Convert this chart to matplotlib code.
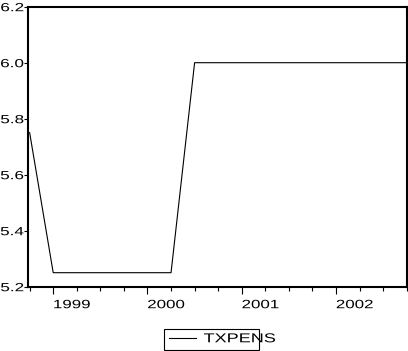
import matplotlib
matplotlib.use("Agg")
import numpy as np
import matplotlib.pyplot as plt
from matplotlib.patheffects import AbstractPathEffect
from matplotlib.transforms import Affine2D
from matplotlib.ticker import FixedLocator, NullFormatter

# ---- data ----
quarters = ["1998Q4",
            "1999Q1", "1999Q2", "1999Q3", "1999Q4",
            "2000Q1", "2000Q2", "2000Q3", "2000Q4",
            "2001Q1", "2001Q2", "2001Q3", "2001Q4",
            "2002Q1", "2002Q2", "2002Q3", "2002Q4"]
txpens = [5.75,
          5.25, 5.25, 5.25, 5.25,
          5.25, 5.25, 6.00, 6.00,
          6.00, 6.00, 6.00, 6.00,
          6.00, 6.00, 6.00, 6.00]
year_labels = ["1999", "2000", "2001", "2002"]
year_start = ["1999Q1", "2000Q1", "2001Q1", "2002Q1"]
y_ticks = [5.2, 5.4, 5.6, 5.8, 6.0, 6.2]
series_name = "TXPENS"


class HStretch(AbstractPathEffect):
    """Draw text glyphs widened horizontally (wide screen font look)."""
    def __init__(self, sx, anchor="center"):
        super().__init__()
        self._sx = sx
        self._anchor = anchor

    def draw_path(self, renderer, gc, tpath, affine, rgbFace=None):
        ext = tpath.get_extents()
        if self._anchor == "left":
            a = ext.x0
        elif self._anchor == "right":
            a = ext.x1
        else:
            a = 0.5 * (ext.x0 + ext.x1)
        t = Affine2D().translate(-a, 0).scale(self._sx, 1.0).translate(a, 0) + affine
        renderer.draw_path(gc, tpath, t, rgbFace)


plt.rcParams["font.family"] = ["Liberation Sans", "DejaVu Sans"]

W, H = 408, 351
fig = plt.figure(figsize=(W / 100, H / 100), dpi=100)
left, right, top, bottom = 28.0, 406.7, 6.7, 286.7
ax = fig.add_axes([left / W, 1 - bottom / H, (right - left) / W, (bottom - top) / H])

x = np.arange(len(quarters))
line, = ax.plot(x, txpens, color="black", lw=0.8, label=series_name)

ax.set_xlim(-0.07, len(quarters) - 1)
ax.set_ylim(y_ticks[0], y_ticks[-1])

for s in ax.spines.values():
    s.set_linewidth(1.5)
    s.set_color("black")

# y axis
ax.set_yticks(y_ticks)
ax.set_yticklabels([f"{v:.1f}" for v in y_ticks])
ax.tick_params(axis="y", direction="out", length=2.7, width=0.8, pad=0.3,
               labelsize=8.5, colors="black")
for lab in ax.get_yticklabels():
    lab.set_path_effects([HStretch(1.45, "right")])

# x axis ticks: long ticks at year starts, short ticks at other quarters
major_pos = [quarters.index(q) for q in year_start]
minor_pos = [i for i in x if i not in major_pos]
ax.xaxis.set_major_locator(FixedLocator(major_pos))
ax.xaxis.set_minor_locator(FixedLocator(minor_pos))
ax.xaxis.set_major_formatter(NullFormatter())
ax.xaxis.set_minor_formatter(NullFormatter())
ax.tick_params(axis="x", which="major", direction="out", length=5.2, width=0.8)
ax.tick_params(axis="x", which="minor", direction="out", length=3.0, width=0.8)

# year labels
sec = ax.secondary_xaxis("bottom")
sec.set_xticks([p + 0.8 for p in major_pos])
sec.set_xticklabels(year_labels)
sec.tick_params(axis="x", length=0, pad=9, labelsize=8.7, colors="black")
sec.spines["bottom"].set_visible(False)
for lab in sec.get_xticklabels():
    lab.set_path_effects([HStretch(1.4, "center")])

# legend
fs = 9.3
leg = fig.legend(handles=[line], labels=[series_name], loc="lower left",
                 bbox_to_anchor=(164 / W, 1.2 / H), bbox_transform=fig.transFigure,
                 borderaxespad=0, fontsize=fs, handlelength=2.1, handletextpad=0.62,
                 borderpad=0.35, fancybox=False, shadow=False, framealpha=1)
leg.get_frame().set_edgecolor("black")
leg.get_frame().set_linewidth(0.8)
for t in leg.get_texts():
    t.set_path_effects([HStretch(1.4, "left")])

fig.savefig("out.png", dpi=100)
